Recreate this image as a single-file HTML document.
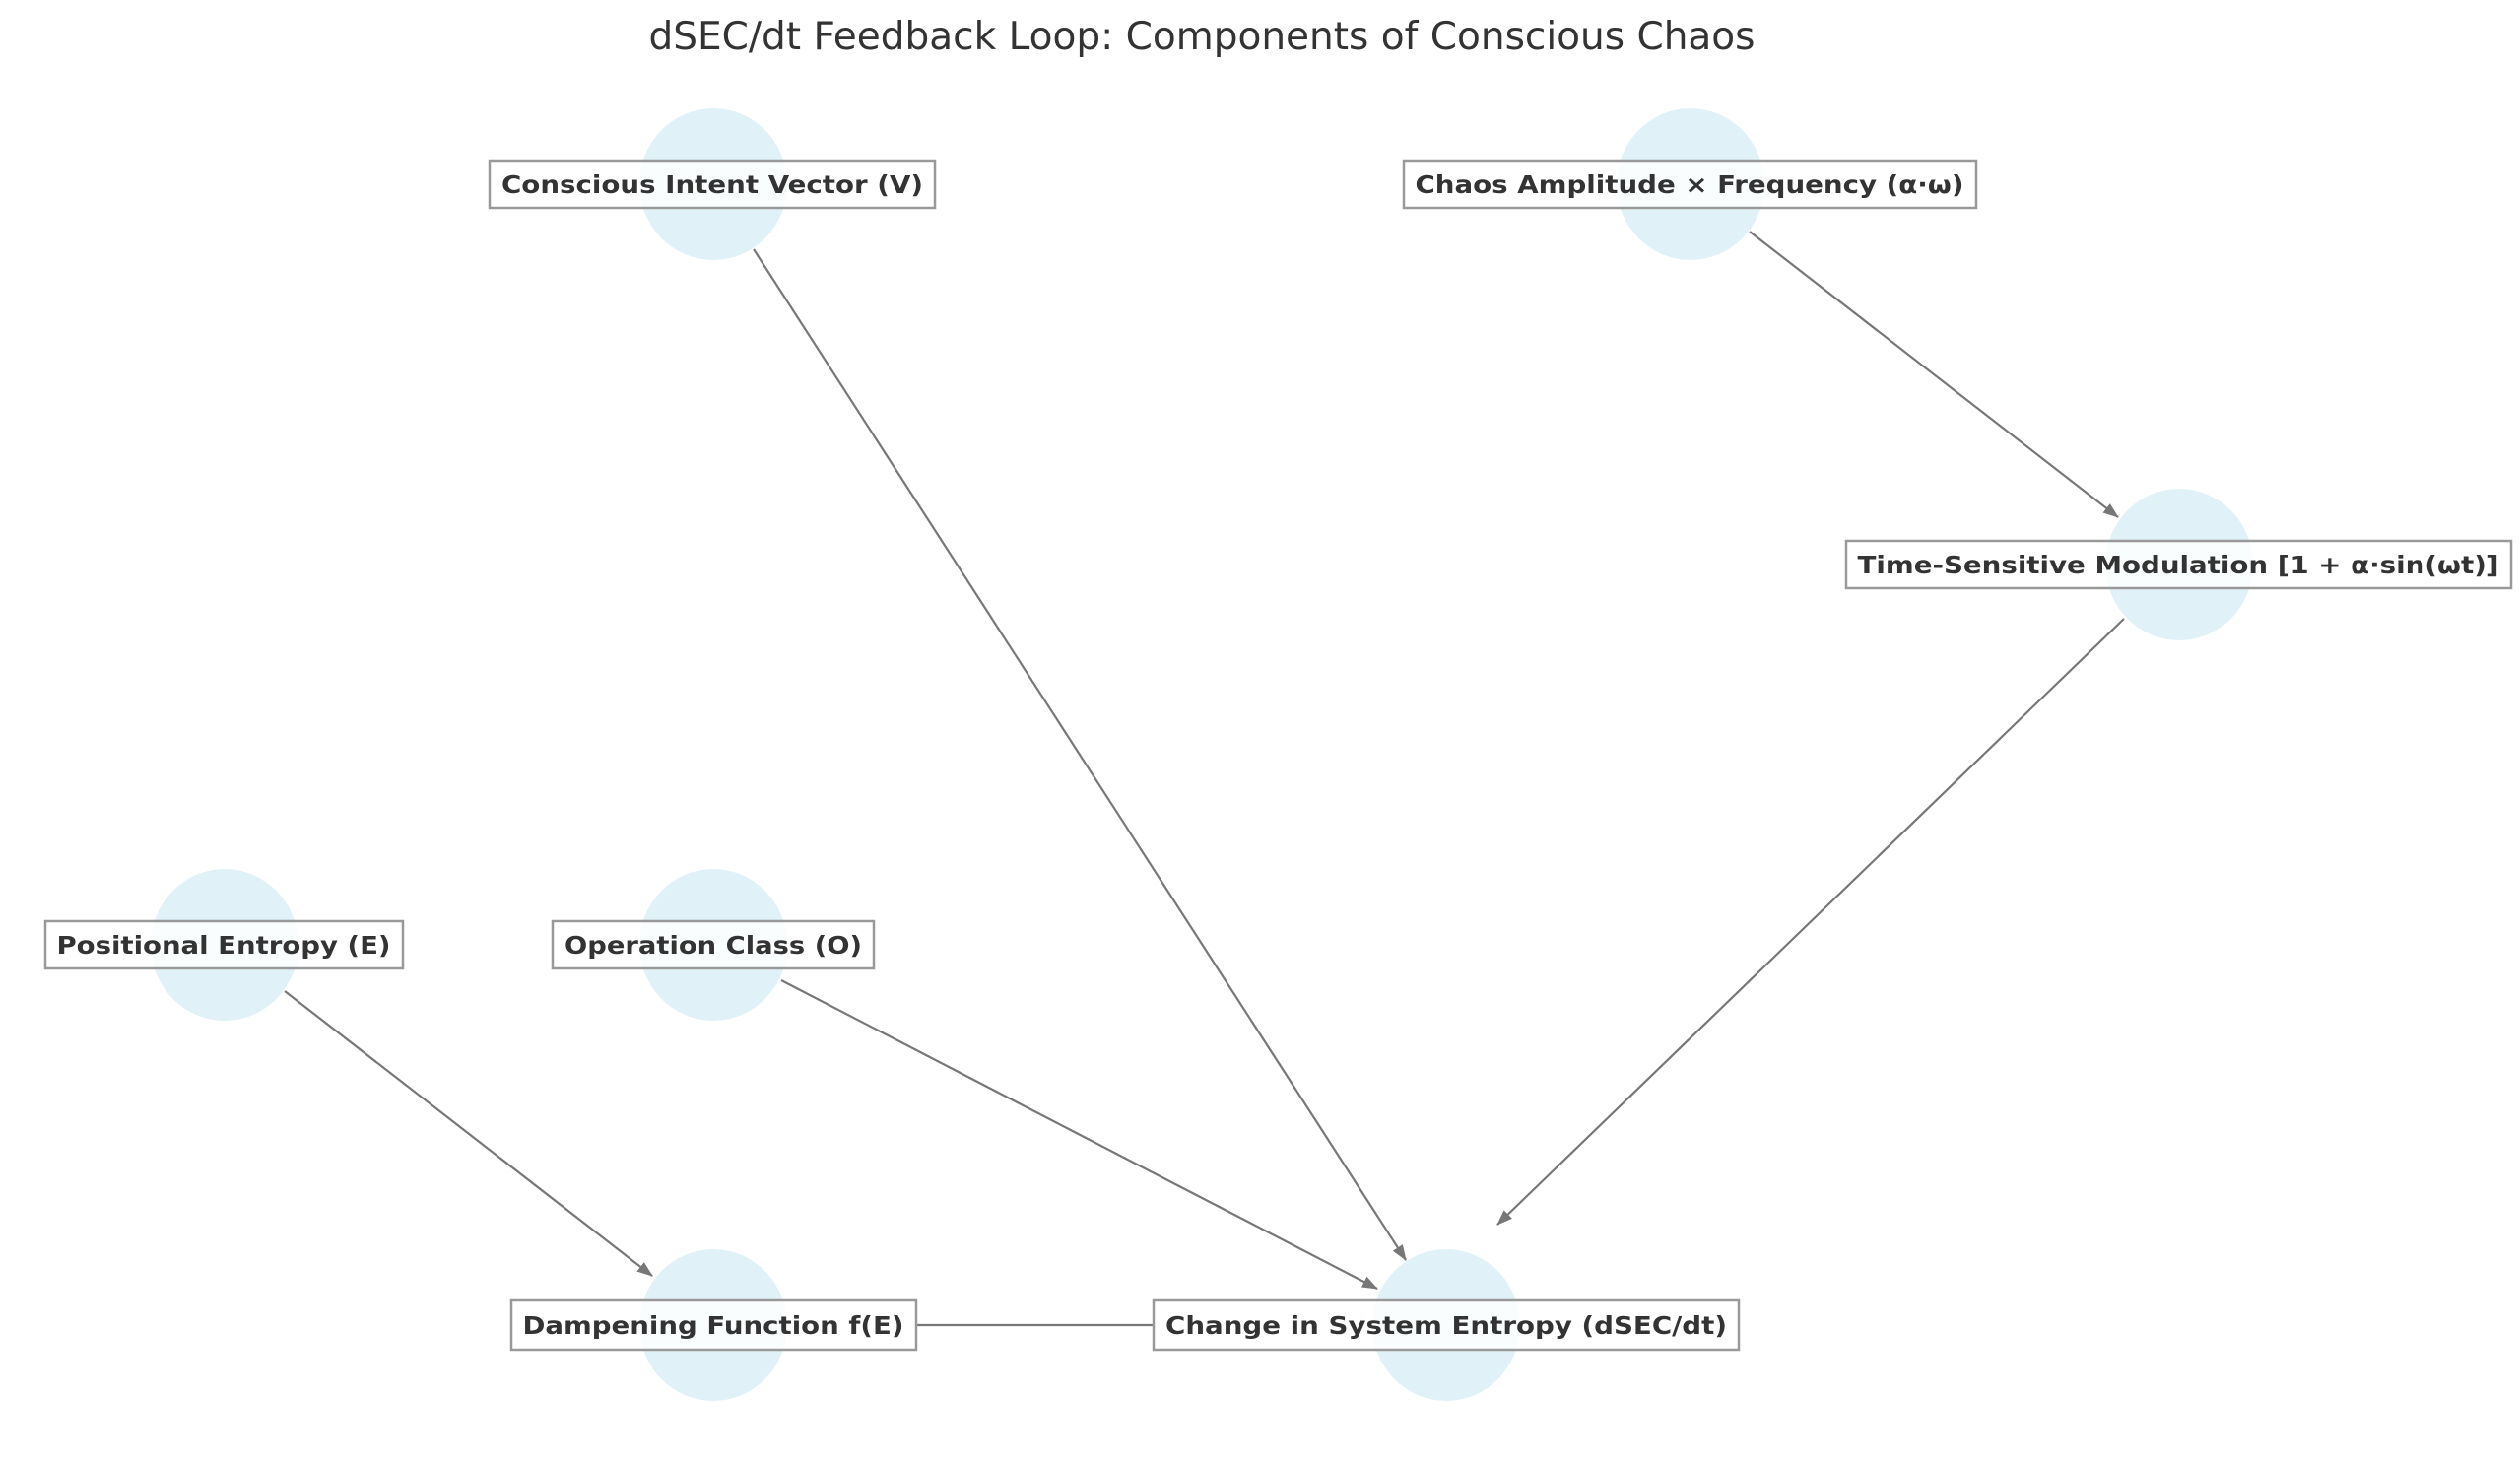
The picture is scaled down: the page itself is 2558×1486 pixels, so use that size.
<!DOCTYPE html>
<html><head><meta charset="utf-8"><style>
html,body{margin:0;padding:0;background:#fff;}
svg{display:block;}
.t{font-family:"DejaVu Sans","Liberation Sans",sans-serif;font-weight:bold;font-size:25px;fill:#333;}
</style></head><body>
<svg width="2558" height="1486" viewBox="0 0 2558 1486" xmlns="http://www.w3.org/2000/svg">
<defs>
<marker id="a" markerWidth="16" markerHeight="12" refX="15" refY="6" orient="auto" markerUnits="userSpaceOnUse">
<path d="M0,0 L16,6 L0,12 z" fill="#777"/>
</marker>
</defs>
<text x="1220" y="50" text-anchor="middle" font-family="DejaVu Sans, Liberation Sans, sans-serif" font-size="39" fill="#333">dSEC/dt Feedback Loop: Components of Conscious Chaos</text>
<g fill="#e0f2f8">
<ellipse cx="724" cy="187" rx="75" ry="77"/>
<ellipse cx="1716" cy="187" rx="75" ry="77"/>
<ellipse cx="2212" cy="573" rx="75" ry="77"/>
<ellipse cx="228" cy="959" rx="75" ry="77"/>
<ellipse cx="724" cy="959" rx="75" ry="77"/>
<ellipse cx="724" cy="1345" rx="75" ry="77"/>
<ellipse cx="1468" cy="1345" rx="75" ry="77"/>
</g>
<g stroke="#777" stroke-width="2.2" fill="none">
<line x1="765" y1="253" x2="1427" y2="1279" marker-end="url(#a)"/>
<line x1="1776" y1="235" x2="2150" y2="525" marker-end="url(#a)"/>
<line x1="2156" y1="628" x2="1520" y2="1243" marker-end="url(#a)"/>
<line x1="289" y1="1006" x2="662" y2="1295" marker-end="url(#a)"/>
<line x1="793" y1="995" x2="1398" y2="1308" marker-end="url(#a)"/>
<line x1="930" y1="1345" x2="1171" y2="1345"/>
</g>
<g fill="#fff" fill-opacity="0.8" stroke="#999" stroke-width="2.5">
<rect x="497" y="163" width="452" height="48"/>
<rect x="1425" y="163" width="581" height="48"/>
<rect x="1874" y="549" width="675" height="48"/>
<rect x="46" y="935" width="363" height="48"/>
<rect x="561" y="935" width="326" height="48"/>
<rect x="519" y="1320" width="411" height="50"/>
<rect x="1171" y="1320" width="594" height="50"/>
</g>
<text class="t" x="723" y="196" text-anchor="middle" textLength="428" lengthAdjust="spacingAndGlyphs">Conscious Intent Vector (V)</text>
<text class="t" x="1715" y="196" text-anchor="middle" textLength="557" lengthAdjust="spacingAndGlyphs">Chaos Amplitude × Frequency (α·ω)</text>
<text class="t" x="2211" y="582" text-anchor="middle" textLength="651" lengthAdjust="spacingAndGlyphs">Time-Sensitive Modulation [1 + α·sin(ωt)]</text>
<text class="t" x="227" y="968" text-anchor="middle" textLength="339" lengthAdjust="spacingAndGlyphs">Positional Entropy (E)</text>
<text class="t" x="724" y="968" text-anchor="middle" textLength="302" lengthAdjust="spacingAndGlyphs">Operation Class (O)</text>
<text class="t" x="724" y="1354" text-anchor="middle" textLength="387" lengthAdjust="spacingAndGlyphs">Dampening Function f(E)</text>
<text class="t" x="1468" y="1354" text-anchor="middle" textLength="570" lengthAdjust="spacingAndGlyphs">Change in System Entropy (dSEC/dt)</text>
</svg>
</body></html>
